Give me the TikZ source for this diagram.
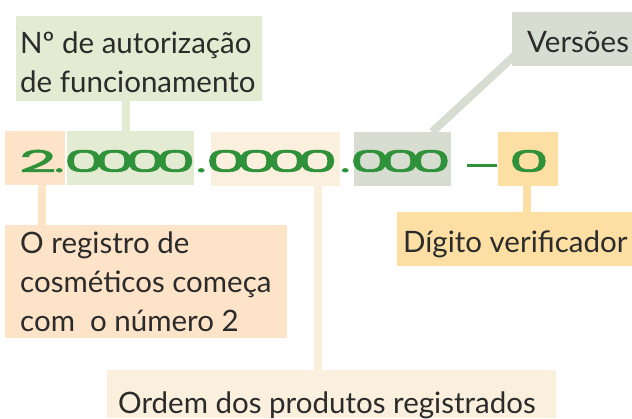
\documentclass[tikz,border=0pt]{standalone}
\usepackage{fontspec}
\usetikzlibrary{calc}
\newfontfamily\lblfont{Lato}
\newfontfamily\numfont[FakeBold=1.6]{Poppins}
\definecolor{cAuth}{HTML}{E3ECD2}
\definecolor{cTwo}{HTML}{FDE3C8}
\definecolor{cOrd}{HTML}{FBF0DD}
\definecolor{cVer}{HTML}{D7DDD0}
\definecolor{cDig}{HTML}{FDDFA3}
\definecolor{cNum}{HTML}{2F913A}
\definecolor{cTxt}{HTML}{2B2B2B}
\tikzset{
  box/.style={rectangle, inner sep=0pt, anchor=north west},
  lbl/.style={inner sep=0pt, anchor=base west, text=cTxt, font=\lblfont\fontsize{29.5}{35}\selectfont},
  num/.style={inner sep=0pt, anchor=base west, text=cNum, font=\numfont\fontsize{30}{36}\selectfont},
  conn/.style={line width=8pt},
}
\newcommand{\wdig}[1]{\scalebox{2.15}[1]{#1}}
\newcommand{\wdot}{\scalebox{1.6}[1]{.}}
\newcommand{\zk}{\kern-10pt}
\begin{document}
\begin{tikzpicture}[x=1pt,y=-1pt]
\fill[white] (0,0) rectangle (632,418);
\useasboundingbox (0,0) rectangle (632,418);
% boxes
\node[box, fill=cAuth, minimum width=246pt, minimum height=85pt] (auth) at (16,16) {};
\node[box, fill=cVer, minimum width=120pt, minimum height=54pt] (ver) at (512,12) {};
\node[box, fill=cTwo, minimum width=60pt, minimum height=54pt] (two) at (5,131) {};
\node[box, fill=cAuth, minimum width=127pt, minimum height=54pt] (afe) at (67,131) {};
\node[box, fill=cOrd, minimum width=129pt, minimum height=54pt] (prod) at (211,132) {};
\node[box, fill=cVer, minimum width=97pt, minimum height=54pt] (vers) at (354,132) {};
\node[box, fill=cDig, minimum width=60pt, minimum height=54pt] (dv) at (498,132) {};
\node[box, fill=cTwo, minimum width=282pt, minimum height=113pt] (reg) at (5,225) {};
\node[box, fill=cDig, minimum width=235pt, minimum height=54pt] (dig) at (397,212) {};
\node[box, fill=cOrd, minimum width=449pt, minimum height=48pt] (ord) at (107,370) {};
% connectors
\draw[conn, cAuth] (auth.south -| 126,0) -- (afe.north -| 126,0);
\draw[conn, cTwo] (two.south -| 41.5,0) -- (reg.north -| 41.5,0);
\draw[conn, cOrd] (prod.south -| 317.5,0) -- (ord.north -| 317.5,0);
\draw[conn, cDig] (dv.south -| 527,0) -- (dig.north -| 527,0);
\draw[conn, cVer] ($(vers.north west)+(78,0)$) -- ($(ver.west)+(3,16)$);
% texts
\node[lbl] (t1) at (20,53) {Nº de autorização};
\node[lbl] (t2) at (20,92) {de funcionamento};
\node[lbl] (t3) at (527,52) {Versões};
\node[lbl] (t4) at (403,252) {Dígito verificador};
\node[lbl] (t5) at (20,253) {O registro de};
\node[lbl] (t6) at (20,292) {cosméticos começa};
\node[lbl] (t7) at (20,331) {com\ \ o número 2};
\node[lbl] (t8) at (118,413) {Ordem dos produtos registrados};
\node[num] (n1) at (19,172) {\wdig{2}};
\node[num] (n1d) at (54,172) {\wdot};
\node[num] (n2) at (63.5,172) {\wdig{0}\zk\wdig{0}\zk\wdig{0}\zk\wdig{0}};
\node[num] (n3) at (196,172) {\wdot};
\node[num] (n4) at (205.5,172) {\wdig{0}\zk\wdig{0}\zk\wdig{0}\zk\wdig{0}};
\node[num] (n5) at (340,172) {\wdot};
\node[num] (n6) at (349.5,172) {\wdig{0}\zk\wdig{0}\zk\wdig{0}};
\node[inner sep=0pt, anchor=west] (dash) at (467,165) {\textcolor{cNum}{\rule{30pt}{3pt}}};
\node[num] (n7) at (508.5,172) {\wdig{0}};
\end{tikzpicture}
\end{document}
